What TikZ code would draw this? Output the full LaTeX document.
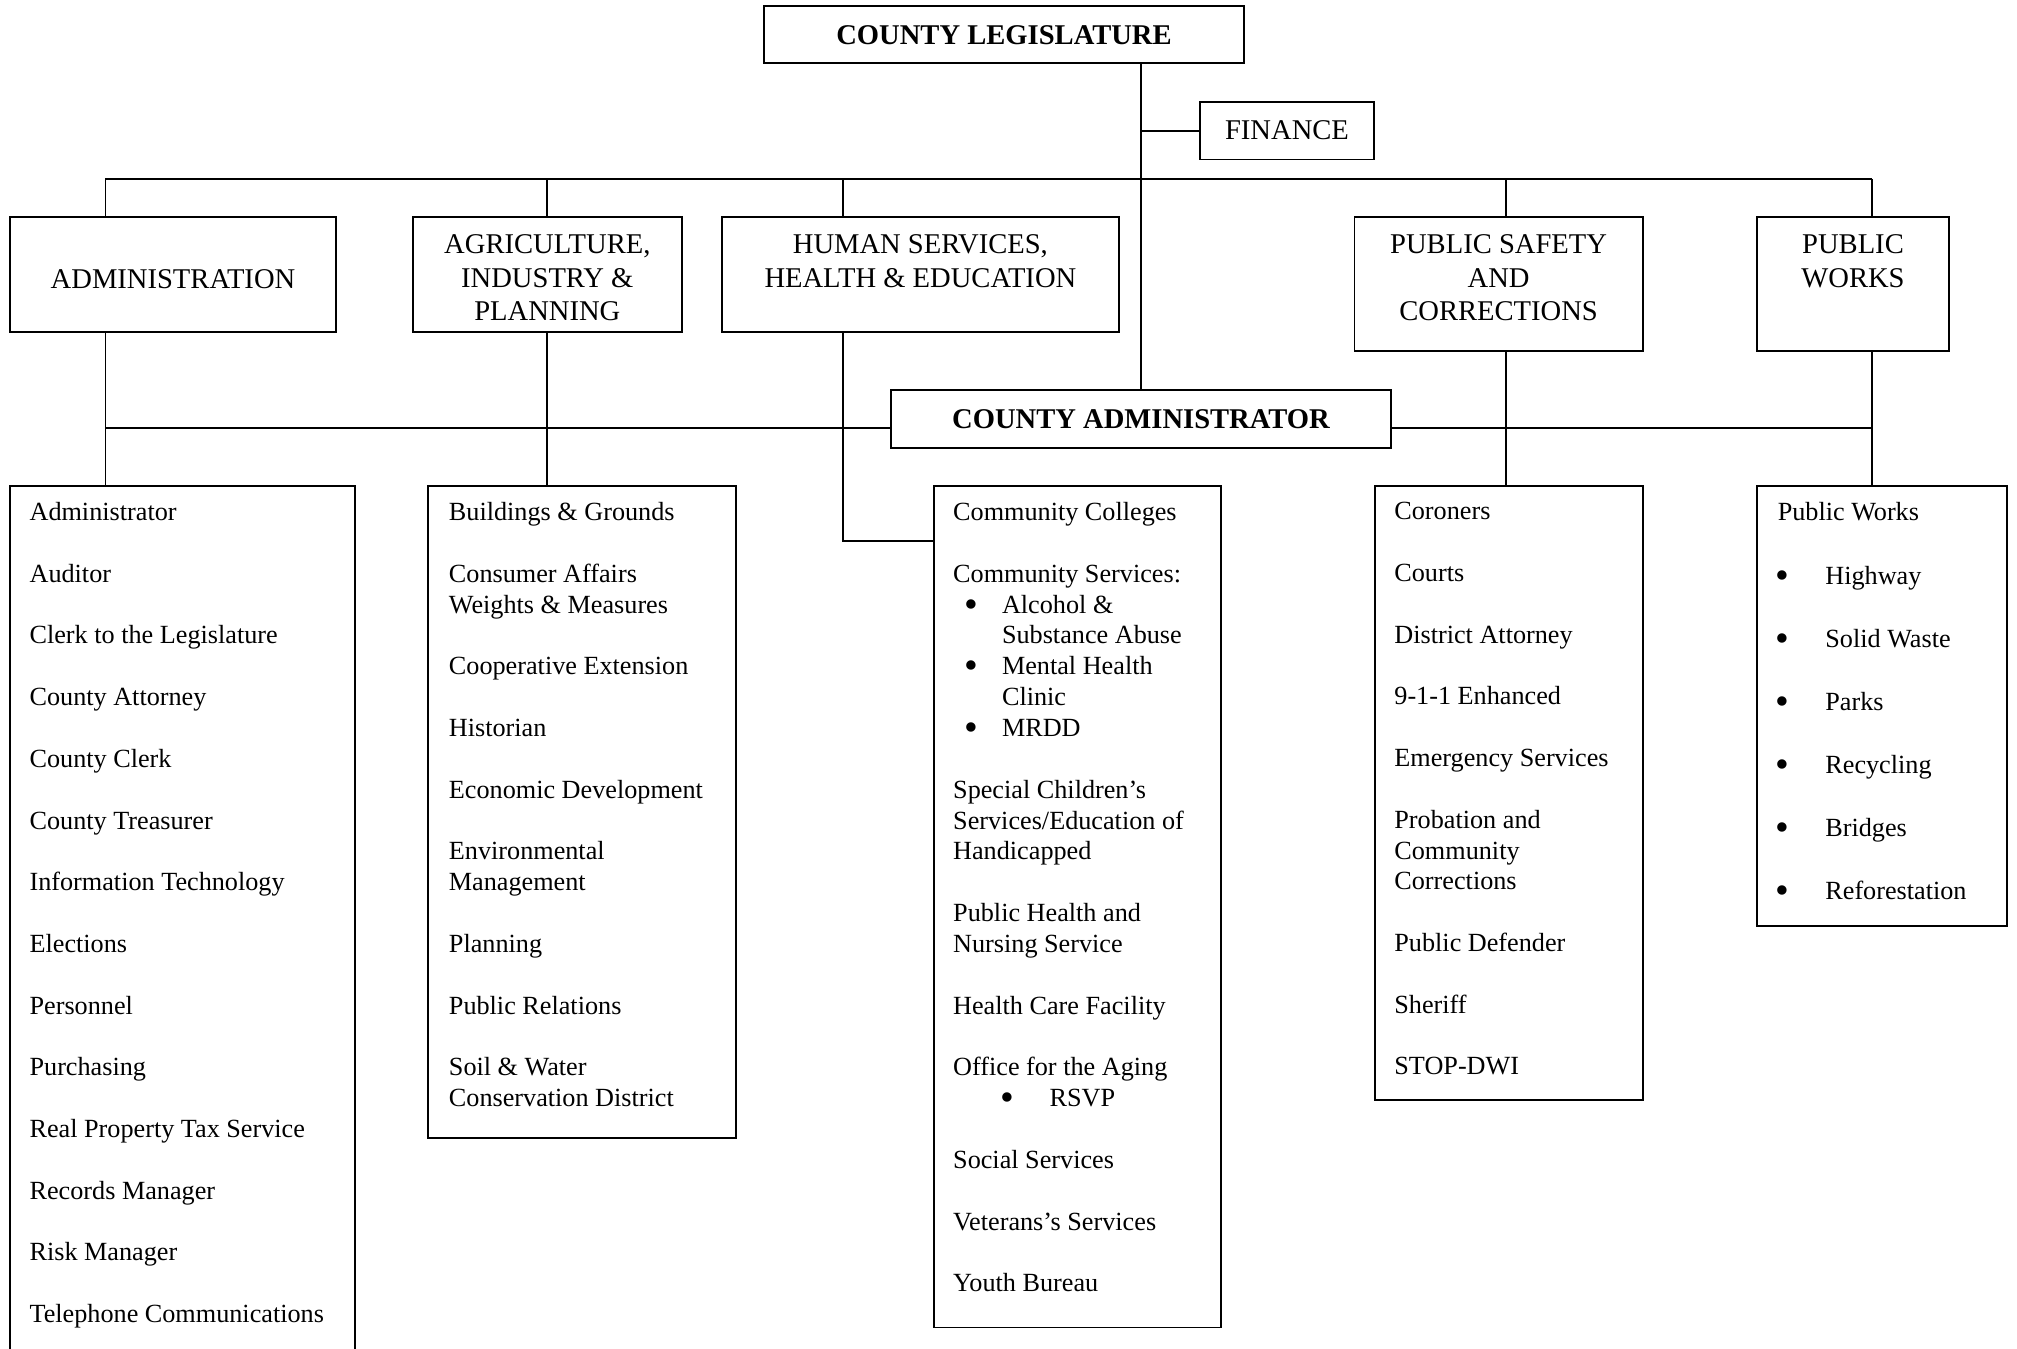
\documentclass[tikz,border=0pt]{standalone}
\usepackage{fontspec}
\usepackage{graphicx}
\setmainfont{Liberation Serif}
\usetikzlibrary{fit}
\newcommand\itemgap{\\[12.95pt]}
\newcommand\bigbul{\raisebox{-.16em}{\scalebox{1.5}{\textbullet}}}
\newcommand\hsbul[1]{\hspace*{4.9pt}\makebox[15.6pt][l]{\bigbul}#1}
\newcommand\hscont{\hspace*{20.5pt}}
\newcommand\pwbul[1]{\hspace*{-.8pt}\makebox[20.8pt][l]{\bigbul}#1}
\begin{document}
\begin{tikzpicture}[x=0.54pt, y=-0.54pt, line width=.8pt,
	box/.style={draw, inner sep=0pt},
	boss/.style={box, font=\fontsize{12}{14}\selectfont\bfseries},
	head/.style={inner sep=0pt, anchor=north, align=center, font=\fontsize{12}{14}\selectfont},
	list/.style={inner sep=0pt, anchor=north west, align=left, font=\fontsize{11}{12.95}\selectfont}]
	\clip (0,0) rectangle (1568,1048);
	% top level
	\node[boss, minimum width=373*0.54pt, minimum height=44*0.54pt] (cl) at (780.5,27) {COUNTY LEGISLATURE};
	\node[box, minimum width=135*0.54pt, minimum height=45*0.54pt, font=\fontsize{12}{14}\selectfont] (fin) at (1000.5,101.5) {FINANCE};
	\node[boss, minimum width=388*0.54pt, minimum height=45*0.54pt] (ca) at (887,325.5) {COUNTY ADMINISTRATOR};
	% departments
	\node[box, fit={(8,169) (261,258)}] (hAdm) {};
	\node[box, fit={(321,169) (530,258)}] (hAgr) {};
	\node[box, fit={(561,169) (870,258)}] (hHum) {};
	\node[box, fit={(1053,169) (1277,273)}] (hSaf) {};
	\node[box, fit={(1366,169) (1515,273)}] (hPw) {};
	\node[head] (tAdm) at ([shift={(0,40.7)}]hAdm.north) {ADMINISTRATION};
	\node[head] (tAgr) at ([shift={(0,13.7)}]hAgr.north) {AGRICULTURE,\\INDUSTRY \&\\PLANNING};
	\node[head] (tHum) at ([shift={(0,13.7)}]hHum.north) {HUMAN SERVICES,\\HEALTH \& EDUCATION};
	\node[head] (tSaf) at ([shift={(0,13.7)}]hSaf.north) {PUBLIC SAFETY\\AND\\CORRECTIONS};
	\node[head] (tPw) at ([shift={(0,13.7)}]hPw.north) {PUBLIC\\WORKS};
	% lists
	\node[box, fit={(8,378) (276,1080)}] (lAdm) {};
	\node[box, fit={(333,378) (572,885)}] (lAgr) {};
	\node[box, fit={(726,378) (949,1032)}] (lHum) {};
	\node[box, fit={(1069,378) (1277,855)}] (lSaf) {};
	\node[box, fit={(1366,378) (1560,720)}] (lPw) {};
	\node[list] (iAdm) at ([shift={(15,12.5)}]lAdm.north west) {Administrator\itemgap
		Auditor\itemgap
		Clerk to the Legislature\itemgap
		County Attorney\itemgap
		County Clerk\itemgap
		County Treasurer\itemgap
		Information Technology\itemgap
		Elections\itemgap
		Personnel\itemgap
		Purchasing\itemgap
		Real Property Tax Service\itemgap
		Records Manager\itemgap
		Risk Manager\itemgap
		Telephone Communications};
	\node[list] (iAgr) at ([shift={(16,12.5)}]lAgr.north west) {Buildings \& Grounds\itemgap
		Consumer Affairs\\Weights \& Measures\itemgap
		Cooperative Extension\itemgap
		Historian\itemgap
		Economic Development\itemgap
		Environmental\\Management\itemgap
		Planning\itemgap
		Public Relations\itemgap
		Soil \& Water\\Conservation District};
	\node[list] (iHum) at ([shift={(15,12.5)}]lHum.north west) {Community Colleges\itemgap
		Community Services:\\
		\hsbul{Alcohol \&}\\
		\hscont Substance Abuse\\
		\hsbul{Mental Health}\\
		\hscont Clinic\\
		\hsbul{MRDD}\itemgap
		Special Children’s\\Services/Education of\\Handicapped\itemgap
		Public Health and\\Nursing Service\itemgap
		Health Care Facility\itemgap
		Office for the Aging\\
		\hspace*{20pt}\makebox[20.5pt][l]{\bigbul}RSVP\itemgap
		Social Services\itemgap
		Veterans’s Services\itemgap
		Youth Bureau};
	\node[list] (iSaf) at ([shift={(15,12.5)}]lSaf.north west) {Coroners\itemgap
		Courts\itemgap
		District Attorney\itemgap
		9-1-1 Enhanced\itemgap
		Emergency Services\itemgap
		Probation and\\Community\\Corrections\itemgap
		Public Defender\itemgap
		Sheriff\itemgap
		STOP-DWI};
	\node[list] (iPw) at ([shift={(16,12.5)}]lPw.north west) {Public Works\\[14pt]
		\pwbul{Highway}\\[13.5pt]
		\pwbul{Solid Waste}\\[13.5pt]
		\pwbul{Parks}\\[13.5pt]
		\pwbul{Recycling}\\[13.5pt]
		\pwbul{Bridges}\\[13.5pt]
		\pwbul{Reforestation}};
	% buses
	\path
	(82,139) coordinate (bAdm)
	(425,139) coordinate (bAgr)
	(655,139) coordinate (bHum)
	(1171,139) coordinate (bSaf)
	(1455,139) coordinate (bPw)
	(82,333) coordinate (cAdm)
	(1455,333) coordinate (cPw)
	;
	\draw (ca.north) -- (ca.north |- cl.south);
	\draw (fin.west) -- (fin.west -| ca.north);
	\draw (bAdm) -- (bPw);
	\foreach \n in {Adm,Agr,Hum,Saf,Pw} \draw (b\n) -- (b\n |- h\n.north);
	\foreach \n in {Adm,Agr,Saf,Pw} \draw (b\n |- h\n.south) -- (b\n |- l\n.north);
	\draw (bHum |- hHum.south) |- ([shift={(0,43)}]lHum.north west);
	\draw (cAdm) -- (ca.west |- cAdm) (ca.east |- cPw) -- (cPw);
\end{tikzpicture}
\end{document}
